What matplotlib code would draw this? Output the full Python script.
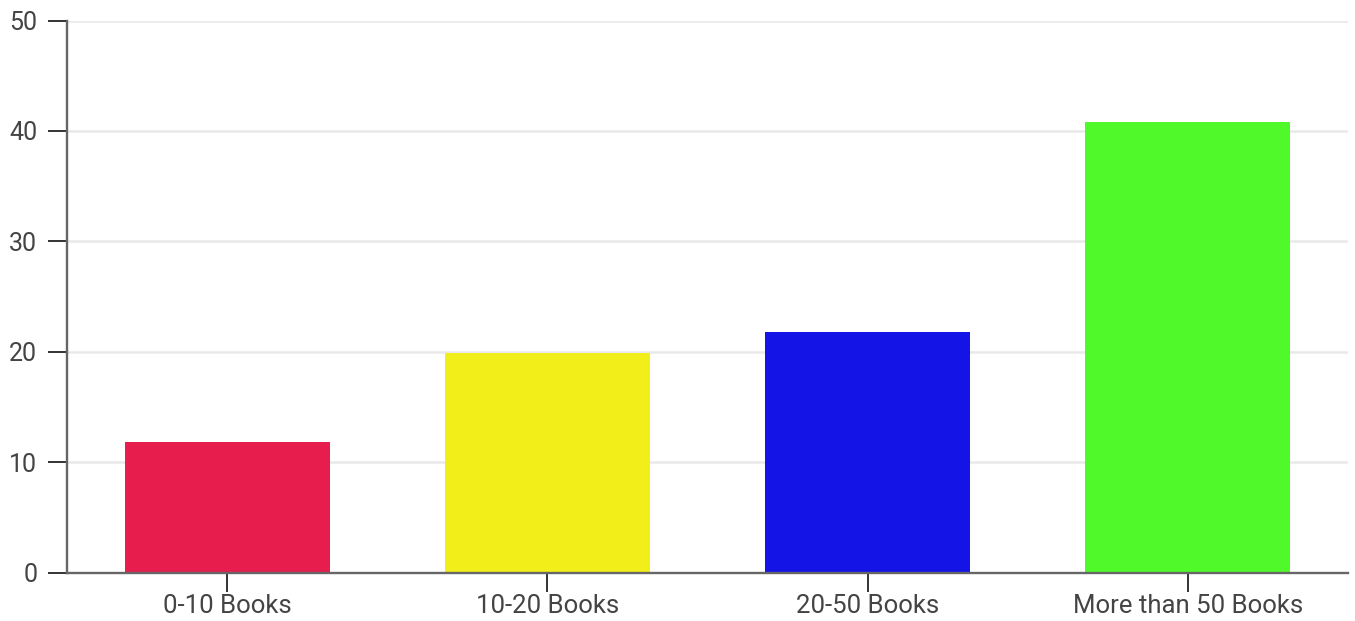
import matplotlib.pyplot as plt

categories = ["0-10 Books", "10-20 Books", "20-50 Books", "More than 50 Books"]
counts = [11.8, 19.9, 21.8, 40.8]
bar_colors = ["#E61D4D", "#F2EE19", "#1414E6", "#50FA2A"]
y_ticks = [0, 10, 20, 30, 40, 50]

plt.rcParams['font.family'] = ['Roboto', 'DejaVu Sans']

fig = plt.figure(figsize=(13.55, 6.21), dpi=100)
ax = fig.add_axes([67 / 1355, 1 - 572.5 / 621, (1348 - 67) / 1355, (572.5 - 20.5) / 621])

x = range(len(categories))
ax.bar(x, counts, width=0.64, color=bar_colors, zorder=3)

ax.set_xlim(-0.5, len(categories) - 0.5)
ax.set_ylim(0, 50)
ax.set_yticks(y_ticks)
ax.set_xticks(list(x))
ax.set_xticklabels(categories)

ax.grid(axis='y', color='#e9e9e9', linewidth=1.8, zorder=0)
for side in ['top', 'right']:
    ax.spines[side].set_visible(False)
for side in ['left', 'bottom']:
    ax.spines[side].set_color('#666666')
    ax.spines[side].set_linewidth(1.7)
    ax.spines[side].set_zorder(4)

ax.tick_params(axis='y', length=13.5, width=1.4, color='#333333', pad=8,
               labelsize=18, labelcolor='#444444')
ax.tick_params(axis='x', length=13.5, width=1.4, color='#333333', pad=2,
               labelsize=18.5, labelcolor='#444444')

fig.savefig('out.png', dpi=100)
